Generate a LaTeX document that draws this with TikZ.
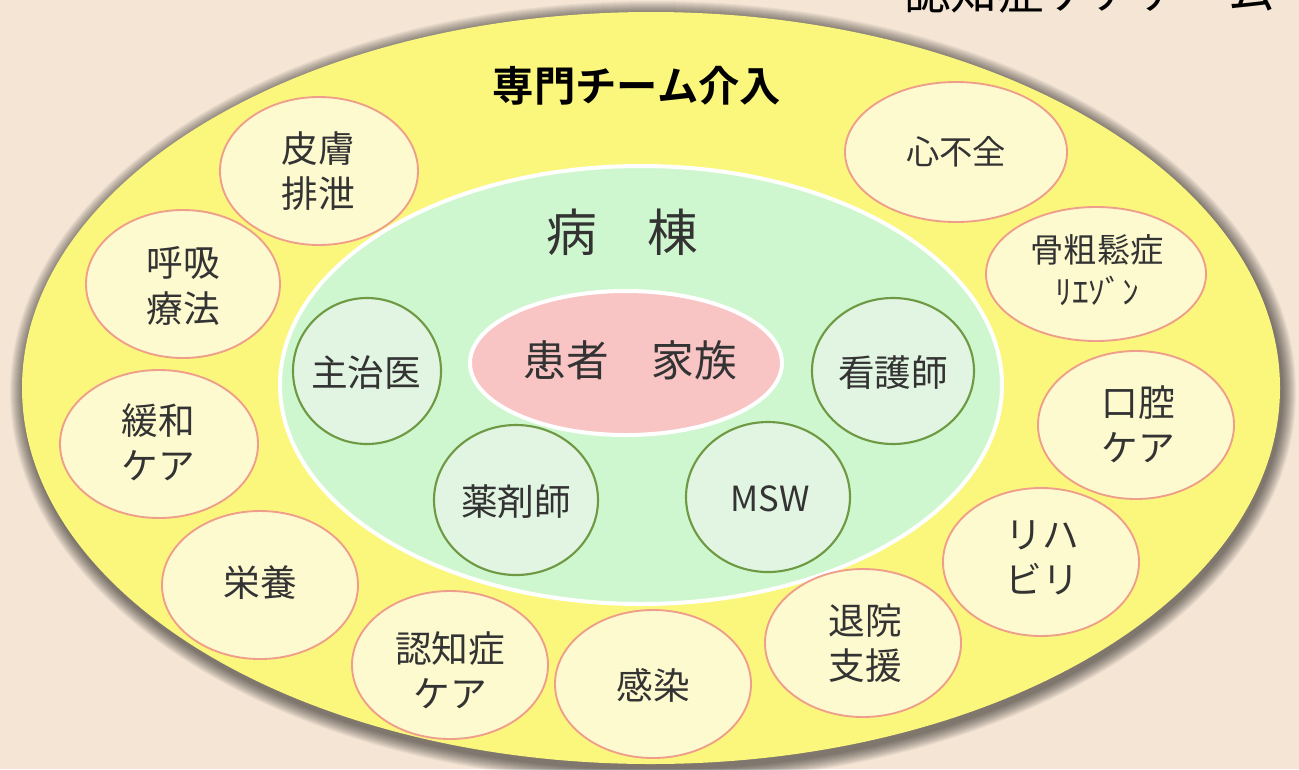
\documentclass[tikz,border=0pt]{standalone}
\usepackage{fontspec}
\setmainfont{Noto Sans CJK JP}
\newfontfamily\jpfont{Noto Sans CJK JP}
\newfontfamily\jpbold{Noto Sans CJK JP Bold}
\definecolor{bgc}{HTML}{F4E5D5}
\definecolor{yel}{HTML}{FBF77C}
\definecolor{grn}{HTML}{CFF7CF}
\definecolor{pnk}{HTML}{F8C4C4}
\definecolor{ltg}{HTML}{E2F4E2}
\definecolor{gline}{HTML}{6E9A44}
\definecolor{cream}{HTML}{FEFAD0}
\definecolor{pline}{HTML}{EE9E8A}
\definecolor{txt}{HTML}{333333}
\tikzset{
  staff/.style={draw=gline, line width=1.6pt, fill=ltg},
  team/.style={draw=pline, line width=1.4pt, fill=cream},
  lbl/.style={text=txt, align=center, font=\jpfont\fontsize{27.5}{34}\selectfont, inner sep=0pt},
}
\begin{document}
\begin{tikzpicture}[x=0.75pt,y=-0.75pt]
\useasboundingbox (0,0) rectangle (1299,769);
\fill[bgc] (0,0) rectangle (1299,769);
\begin{scope}
\clip (0,0) rectangle (1299,769);
% shadow
\foreach \i in {1,...,14}{
  \fill[black, opacity=0.045] (653,392) ellipse ({629+\i} and {377+\i});
}
\fill[yel] (651,388) ellipse (629 and 376);
% title top right (cut)
\node[anchor=base west, text=black, inner sep=0pt, font=\jpfont\fontsize{35}{35}\selectfont] (cut) at (904,9) {認知症ケアチーム};
\end{scope}
% ward
\fill[grn, draw=white, line width=3pt] (641,385) ellipse (361 and 219);
\fill[pnk, draw=white, line width=3pt] (626,363) ellipse (156 and 72);
\node[lbl, font=\jpfont\fontsize{32}{32}\selectfont] (pt) at (630,360) {患者　家族};
\node[lbl, font=\jpfont\fontsize{38}{38}\selectfont] (ward) at (622,232) {病　棟};
\node[lbl, font=\jpbold\fontsize{31}{31}\selectfont, text=black] (title) at (637,86) {専門チーム介入};
% staff circles
\draw[staff] (367,371) ellipse (74 and 73);
\node[lbl] (doc) at (366,373) {主治医};
\draw[staff] (893,371) ellipse (81 and 73);
\node[lbl] (ns) at (893,373) {看護師};
\draw[staff] (516,500) ellipse (82 and 75);
\node[lbl] (ph) at (516,502) {薬剤師};
\draw[staff] (768,497) ellipse (82 and 75);
\node[lbl, font=\fontsize{26}{26}\selectfont] (msw) at (770,499) {MSW};
% team circles
\draw[team] (319,171) ellipse (99 and 74);
\node[lbl] (skin) at (318,171) {皮膚\\排泄};
\draw[team] (183,284) ellipse (97 and 74);
\node[lbl] (resp) at (183,286) {呼吸\\療法};
\draw[team] (159,444) ellipse (99 and 74);
\node[lbl] (pal) at (158,442) {緩和\\ケア};
\draw[team] (260,585) ellipse (98 and 74);
\node[lbl] (nut) at (260,583) {栄養};
\draw[team] (450,665) ellipse (98 and 74);
\node[lbl] (dem) at (450,670) {認知症\\ケア};
\draw[team] (653,684) ellipse (98 and 74);
\node[lbl] (inf) at (653,685) {感染};
\draw[team] (863,643) ellipse (98 and 74);
\node[lbl] (dis) at (865,643) {退院\\支援};
\draw[team] (1041,562) ellipse (98 and 74);
\node[lbl] (reh) at (1042,558) {リハ\\ビリ};
\draw[team] (1136,425) ellipse (98 and 74);
\node[lbl] (oral) at (1138,424) {口腔\\ケア};
\draw[team] (1096,274) ellipse (110 and 67);
\node[lbl, font=\jpfont\fontsize{25}{32}\selectfont] (osteo) at (1097,270) {骨粗鬆症\\ﾘｴｿﾞﾝ};
\draw[team] (956,152) ellipse (111 and 70);
\node[lbl, font=\jpfont\fontsize{25}{30}\selectfont] (hf) at (956,152) {心不全};
\end{tikzpicture}
\end{document}
